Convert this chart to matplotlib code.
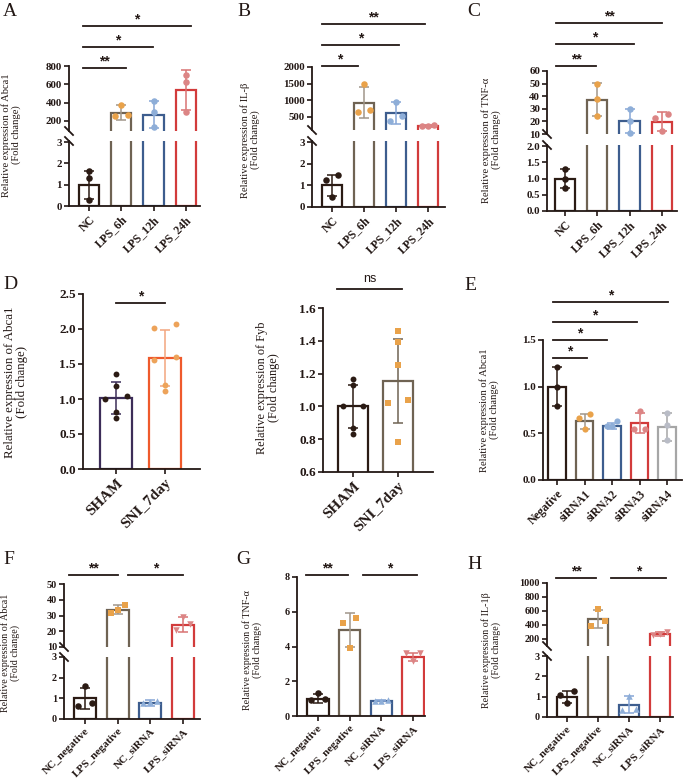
import matplotlib
matplotlib.use('Agg')
import matplotlib.pyplot as plt
import matplotlib.transforms as mtransforms
from matplotlib.lines import Line2D
import numpy as np

plt.rcParams['font.family'] = ['Liberation Serif', 'DejaVu Serif']
plt.rcParams['axes.linewidth'] = 1.3

W, H = 685, 783
fig = plt.figure(figsize=(W / 100, H / 100), dpi=100)

# ---------------- data ----------------
A_cats = ['NC', 'LPS_6h', 'LPS_12h', 'LPS_24h']
A_mean = [1.0, 290, 270, 535]
A_sd = [0.65, 80, 145, 220]
A_pts = [[1.62, 1.3, 0.3], [380, 255, 270], [415, 300, 140], [705, 625, 295]]

B_cats = ['NC', 'LPS_6h', 'LPS_12h', 'LPS_24h']
B_mean = [1.0, 930, 610, 230]
B_sd = [0.5, 460, 330, 25]
B_pts = [[1.5, 1.25, 0.45], [1480, 640, 720], [960, 380, 520], [260, 215, 235]]

C_cats = ['NC', 'LPS_6h', 'LPS_12h', 'LPS_24h']
C_mean = [1.0, 37.3, 20.2, 19.7]
C_sd = [0.3, 13.0, 9.7, 7.5]
C_pts = [[1.3, 1.0, 0.7], [50, 37.5, 24.5], [30, 20.5, 11], [25.5, 23, 12.5]]

D1_cats = ['SHAM', 'SNI_7day']
D1_mean = [1.02, 1.58]
D1_sd = [0.23, 0.40]
D1_pts = [[1.36, 1.18, 1.0, 1.05, 0.82, 0.73], [2.07, 2.01, 1.55, 1.6, 1.2, 1.11]]

D2_cats = ['SHAM', 'SNI_7day']
D2_mean = [1.0, 1.155]
D2_sd = [0.13, 0.257]
D2_pts = [[1.17, 1.13, 1.0, 1.0, 0.87, 0.83], [1.46, 1.39, 1.25, 1.04, 1.02, 0.78]]

E_cats = ['Negative', 'siRNA1', 'siRNA2', 'siRNA3', 'siRNA4']
E_mean = [1.0, 0.63, 0.58, 0.61, 0.57]
E_sd = [0.21, 0.08, 0.03, 0.11, 0.15]
E_pts = [[1.21, 1.0, 0.79], [0.71, 0.66, 0.55], [0.63, 0.58, 0.58],
         [0.74, 0.55, 0.55], [0.72, 0.59, 0.43]]

FGH_cats = ['NC_negative', 'LPS_negative', 'NC_siRNA', 'LPS_siRNA']
F_mean = [1.0, 33.8, 0.78, 24.2]
F_sd = [0.52, 2.6, 0.15, 4.6]
F_pts = [[1.61, 0.65, 0.78], [36.7, 33.5, 31.4], [0.85, 0.78, 0.8], [29.0, 24.5, 21.0]]

G_mean = [1.0, 4.95, 0.88, 3.4]
G_sd = [0.27, 0.97, 0.03, 0.25]
G_pts = [[1.32, 0.92, 0.95], [5.64, 5.37, 3.92], [0.88, 0.9, 0.86], [3.63, 3.6, 3.17]]

H_mean = [0.98, 487, 0.6, 272]
H_sd = [0.28, 130, 0.42, 25]
H_pts = [[1.29, 1.06, 0.69], [631, 459, 387], [1.04, 0.39, 0.33], [300, 275, 260]]

# ---------------- styles ----------------
TXT = '#231815'
DARK = '#2b1b14'
BROWN = '#6f6353'
LBROWN = '#a0968a'
ORANGE = '#e9a24a'
BLUE = '#3d5d8e'
LBLUE = '#8eaed8'
MBLUE = '#86a6d6'
RED = '#d23b3b'
PINK = '#dc8585'
MPINK = '#d87373'
GRAY = '#a6a6a6'
LGRAY = '#b9bcc6'


def add_px_axes(x0, x1, ytop, ybot):
    return fig.add_axes([x0 / W, 1 - ybot / H, (x1 - x0) / W, (ybot - ytop) / H])


def lim_from(cal, ytop, ybot):
    (v1, p1), (v2, p2) = cal
    k = (v2 - v1) / (p1 - p2)
    return v1 - (ybot - p1) * k, v1 + (p1 - ytop) * k


def offsets_for(ax, x, vals, thr, w):
    disp = np.array([ax.transData.transform((x, v))[1] for v in vals])
    order = np.argsort(disp)
    offs = np.zeros(len(vals))
    clusters = [[order[0]]]
    for idx in order[1:]:
        if disp[idx] - disp[clusters[-1][-1]] < thr:
            clusters[-1].append(idx)
        else:
            clusters.append([idx])
    for c in clusters:
        m = len(c)
        if m == 1:
            continue
        pos = np.linspace(-w, w, m)
        for j, idx in enumerate(c):
            offs[idx] = pos[j]
    return offs


def draw_panel(spec, cats, means, sds, pts, style):
    xs, b0, sp, xe = spec['x']
    n = len(means)
    x = np.arange(n)
    xlim = (-(b0 - xs) / sp, (xe - b0) / sp)
    bw = spec.get('bw', 0.63)
    fs = spec.get('fs', 7.8)
    fsx = spec.get('fsx', 8.5)
    parts = spec['parts']
    lims = [lim_from(p['cal'], p['ytop'], p['ybot']) for p in parts]
    axes = []
    for k, part in enumerate(parts):
        ax = add_px_axes(xs, xe, part['ytop'], part['ybot'])
        ax.patch.set_alpha(0)
        ax.set_xlim(*xlim)
        lo, hi = lims[k]
        ax.set_ylim(lo, hi)
        for s in ['top', 'right']:
            ax.spines[s].set_visible(False)
        for s in ['left', 'bottom']:
            ax.spines[s].set_color(TXT)
        is_bottom = (k == len(parts) - 1)
        if len(parts) > 1:
            if is_bottom:
                ax.spines['left'].set_bounds(part['ticks'][0], hi)
            else:
                ax.spines['left'].set_bounds(lo, part['ticks'][-1])
        else:
            ax.spines['left'].set_bounds(part['ticks'][0], part['ticks'][-1])
        ax.set_yticks(part['ticks'])
        ax.set_yticklabels(part['labels'], fontsize=fs, fontweight='bold', color=TXT)
        ax.tick_params(axis='y', length=3.5, width=1.2, pad=1.5, color=TXT)
        if not is_bottom:
            ax.spines['bottom'].set_visible(False)
            ax.tick_params(axis='x', bottom=False, labelbottom=False)
        else:
            ax.set_xticks(x)
            ax.set_xticklabels(cats, rotation=45, ha='right', va='top',
                               rotation_mode='anchor', fontsize=fsx,
                               fontweight='bold', color=TXT)
            ax.tick_params(axis='x', length=3.5, width=1.2, pad=2, color=TXT)
        span = hi - lo
        for i in range(n):
            if is_bottom:
                b, t = 0.0, min(means[i], hi + span)
                show_err = means[i] <= hi
            else:
                if means[i] <= lims[k + 1][1]:
                    continue
                b, t = lo - span, means[i]
                show_err = True
            ax.bar(x[i], t - b, bottom=b, width=bw, facecolor='white',
                   edgecolor=style['edge'][i], linewidth=1.6, zorder=2)
            if show_err:
                ax.errorbar(x[i], means[i], yerr=sds[i], fmt='none',
                            ecolor=style['err'][i], elinewidth=1.1, capsize=3.5,
                            capthick=1.1, zorder=3)
        axes.append(ax)
    # points
    for i in range(n):
        vals = np.array(pts[i], dtype=float)
        for k, ax in enumerate(axes):
            if k == len(axes) - 1:
                mask = vals <= lims[k][1]
            else:
                mask = vals > lims[k + 1][1]
            if not mask.any():
                continue
            sub = vals[mask]
            offs = offsets_for(ax, x[i], sub, spec.get('thr', 6), bw * 0.32)
            ax.scatter(x[i] + offs, sub, s=spec.get('ms', 22),
                       marker=style['marker'][i], color=style['pt'][i],
                       linewidths=0, zorder=4, clip_on=False)
    # break marks ("\" at the end of each spine piece)
    for k in range(len(axes) - 1):
        for yb in (parts[k]['ybot'], parts[k + 1]['ytop']):
            ln = Line2D([(xs - 4) / W, (xs + 4) / W],
                        [1 - (yb - 4) / H, 1 - (yb + 4) / H],
                        transform=fig.transFigure, color=TXT, lw=1.3)
            fig.add_artist(ln)
    bax = axes[-1]
    tr = mtransforms.blended_transform_factory(bax.transData, fig.transFigure)
    for (x0, x1, ypx, s) in spec['sig']:
        yf = 1 - ypx / H
        fig.add_artist(Line2D([x0, x1], [yf, yf], transform=tr, color=TXT, lw=1.3))
        if s == 'ns':
            fig.text((x0 + x1) / 2, yf + 4 / H, s, transform=tr, ha='center', va='bottom',
                     fontsize=spec.get('sigfs', 9), family='Liberation Sans', color=TXT)
        else:
            fig.text((x0 + x1) / 2, yf, s, transform=tr, ha='center', va='bottom',
                     fontsize=spec.get('sigfs', 10), family='Liberation Sans',
                     fontweight='bold', color=TXT)
    lx, ly, ltext, lfs = spec['ylabel']
    fig.text(lx / W, 1 - ly / H, ltext, rotation=90, ha='center', va='center',
             multialignment='center', fontsize=lfs, linespacing=1.1, color=TXT)
    if spec.get('letter'):
        t, tx, ty = spec['letter']
        fig.text(tx / W, 1 - ty / H, t, fontsize=14, ha='left', va='top', color=TXT)
    return axes


st4 = dict(edge=[DARK, BROWN, BLUE, RED], err=[DARK, LBROWN, MBLUE, MPINK],
           pt=[DARK, ORANGE, LBLUE, PINK], marker=['o', 'o', 'o', 'o'])
st4m = dict(edge=[DARK, BROWN, BLUE, RED], err=[DARK, LBROWN, MBLUE, MPINK],
            pt=[DARK, ORANGE, LBLUE, PINK], marker=['o', 's', '^', 'v'])


def ticks_lab(vals, fmt):
    return dict(ticks=vals, labels=[fmt.format(v) for v in vals])


# Panel A
specA = dict(x=(69, 89, 32.3, 200),
             parts=[dict(ytop=66, ybot=131, cal=((800, 66), (200, 121)),
                         **ticks_lab([200, 400, 600, 800], '{:d}')),
                    dict(ytop=141, ybot=206, cal=((0, 206), (3, 142)),
                         **ticks_lab([0, 1, 2, 3], '{:d}'))],
             sig=[(-0.2, 1.15, 68, '**'), (-0.2, 1.98, 47, '*'), (-0.2, 3.16, 26, '*')],
             ylabel=(11, 135, 'Relative expression of Abca1\n(Fold change)', 7.6),
             letter=('A', 3, 3))
draw_panel(specA, A_cats, A_mean, A_sd, A_pts, st4)

# Panel B
specB = dict(x=(312, 332, 32, 445),
             parts=[dict(ytop=67, ybot=130, cal=((2000, 67), (500, 117)),
                         **ticks_lab([500, 1000, 1500, 2000], '{:d}')),
                    dict(ytop=141, ybot=207, cal=((0, 207), (3, 142)),
                         **ticks_lab([0, 1, 2, 3], '{:d}'))],
             sig=[(-0.3, 0.81, 66, '*'), (-0.3, 2.09, 45, '*'), (-0.3, 2.9, 24, '**')],
             ylabel=(250, 140, 'Relative expression of IL-β\n(Fold change)', 7.6),
             letter=('B', 237, 3))
draw_panel(specB, B_cats, B_mean, B_sd, B_pts, st4)

# Panel C
specC = dict(x=(547, 565, 32.3, 677),
             parts=[dict(ytop=71, ybot=134, cal=((60, 71), (10, 134)),
                         **ticks_lab([10, 20, 30, 40, 50, 60], '{:d}')),
                    dict(ytop=145, ybot=211, cal=((0, 211), (2, 146)),
                         **ticks_lab([0, 0.5, 1.0, 1.5, 2.0], '{:.1f}'))],
             sig=[(-0.28, 0.96, 66, '**'), (-0.28, 2.14, 44, '*'), (-0.28, 3.0, 23, '**')],
             ylabel=(491, 140, 'Relative expression of TNF-α\n(Fold change)', 7.6),
             letter=('C', 467, 3))
draw_panel(specC, C_cats, C_mean, C_sd, C_pts, st4)

# Panel D (left)
stD1 = dict(edge=['#3c2d58', '#ef5a2c'], err=['#3c2d58', '#f3a67e'],
            pt=[DARK, '#eda35a'], marker=['o', 'o'])
specD1 = dict(x=(83, 116, 49, 200), bw=0.67, fs=9.5, fsx=11, ms=18,
              parts=[dict(ytop=294, ybot=469, cal=((0, 469), (2.5, 294)),
                          **ticks_lab([0, 0.5, 1.0, 1.5, 2.0, 2.5], '{:.1f}'))],
              sig=[(0, 1.0, 303, '*')],
              ylabel=(16, 382, 'Relative expression of Abca1\n(Fold change)', 9.3),
              letter=('D', 3, 276))
draw_panel(specD1, D1_cats, D1_mean, D1_sd, D1_pts, stD1)

# Panel D (right)
stD2 = dict(edge=[DARK, BROWN], err=[DARK, BROWN], pt=[DARK, ORANGE], marker=['o', 's'])
specD2 = dict(x=(323, 353, 45, 433), bw=0.67, fs=9.5, fsx=11, ms=18,
              parts=[dict(ytop=308, ybot=472, cal=((0.6, 472), (1.6, 308)),
                          **ticks_lab([0.6, 0.8, 1.0, 1.2, 1.4, 1.6], '{:.1f}'))],
              sig=[(-0.36, 1.09, 289, 'ns')],
              ylabel=(268, 388, 'Relative expression of Fyb\n(Fold change)', 8.8),
              letter=None)
draw_panel(specD2, D2_cats, D2_mean, D2_sd, D2_pts, stD2)

# Panel E
stE = dict(edge=[DARK, BROWN, BLUE, RED, GRAY], err=[DARK, LBROWN, MBLUE, MPINK, GRAY],
           pt=[DARK, ORANGE, LBLUE, PINK, LGRAY], marker=['o'] * 5)
specE = dict(x=(543, 557, 27.5, 682), bw=0.62, fs=8, fsx=8.5, ms=20,
             parts=[dict(ytop=340, ybot=480, cal=((0, 480), (1.5, 340)),
                         **ticks_lab([0, 0.5, 1.0, 1.5], '{:.1f}'))],
             sig=[(-0.15, 1.1, 358, '*'), (-0.15, 1.82, 340, '*'),
                  (-0.15, 2.9, 322, '*'), (-0.15, 4.04, 302, '*')],
             ylabel=(489, 410, 'Relative expression of Abca1\n(Fold change)', 7.6),
             letter=('E', 464, 277))
draw_panel(specE, E_cats, E_mean, E_sd, E_pts, stE)

# Panel F
specF = dict(x=(64, 85, 32.7, 200), bw=0.67, fs=7.3, fsx=8,
             parts=[dict(ytop=584, ybot=647, cal=((50, 584), (10, 647)),
                         **ticks_lab([10, 20, 30, 40, 50], '{:d}')),
                    dict(ytop=657, ybot=719, cal=((0, 719), (3, 657)),
                         **ticks_lab([0, 1, 2, 3], '{:d}'))],
             sig=[(-0.49, 1.01, 575, '**'), (1.31, 3.0, 575, '*')],
             ylabel=(10, 653, 'Relative expression of Abca1\n(Fold change)', 7.2),
             letter=('F', 3, 551))
draw_panel(specF, FGH_cats, F_mean, F_sd, F_pts, st4m)

# Panel G
specG = dict(x=(297, 318, 31.7, 425), bw=0.67, fs=7.3, fsx=8,
             parts=[dict(ytop=577, ybot=716, cal=((0, 716), (8, 577)),
                         **ticks_lab([0, 2, 4, 6, 8], '{:d}'))],
             sig=[(-0.38, 0.95, 575, '**'), (1.42, 3.12, 575, '*')],
             ylabel=(252, 650, 'Relative expression of TNF-α\n(Fold change)', 7.2),
             letter=('G', 236, 551))
draw_panel(specG, FGH_cats, G_mean, G_sd, G_pts, st4m)

# Panel H
specH = dict(x=(547, 567, 31, 673), bw=0.67, fs=7.3, fsx=8,
             parts=[dict(ytop=583, ybot=646, cal=((1000, 583), (200, 639)),
                         **ticks_lab([200, 400, 600, 800, 1000], '{:d}')),
                    dict(ytop=656, ybot=717, cal=((0, 717), (3, 656)),
                         **ticks_lab([0, 1, 2, 3], '{:d}'))],
             sig=[(-0.35, 0.94, 578, '**'), (1.42, 3.19, 578, '*')],
             ylabel=(491, 650, 'Relative expression of IL-1β\n(Fold change)', 7.2),
             letter=('H', 467, 556))
draw_panel(specH, FGH_cats, H_mean, H_sd, H_pts, st4m)

fig.savefig('out.png', dpi=100)
